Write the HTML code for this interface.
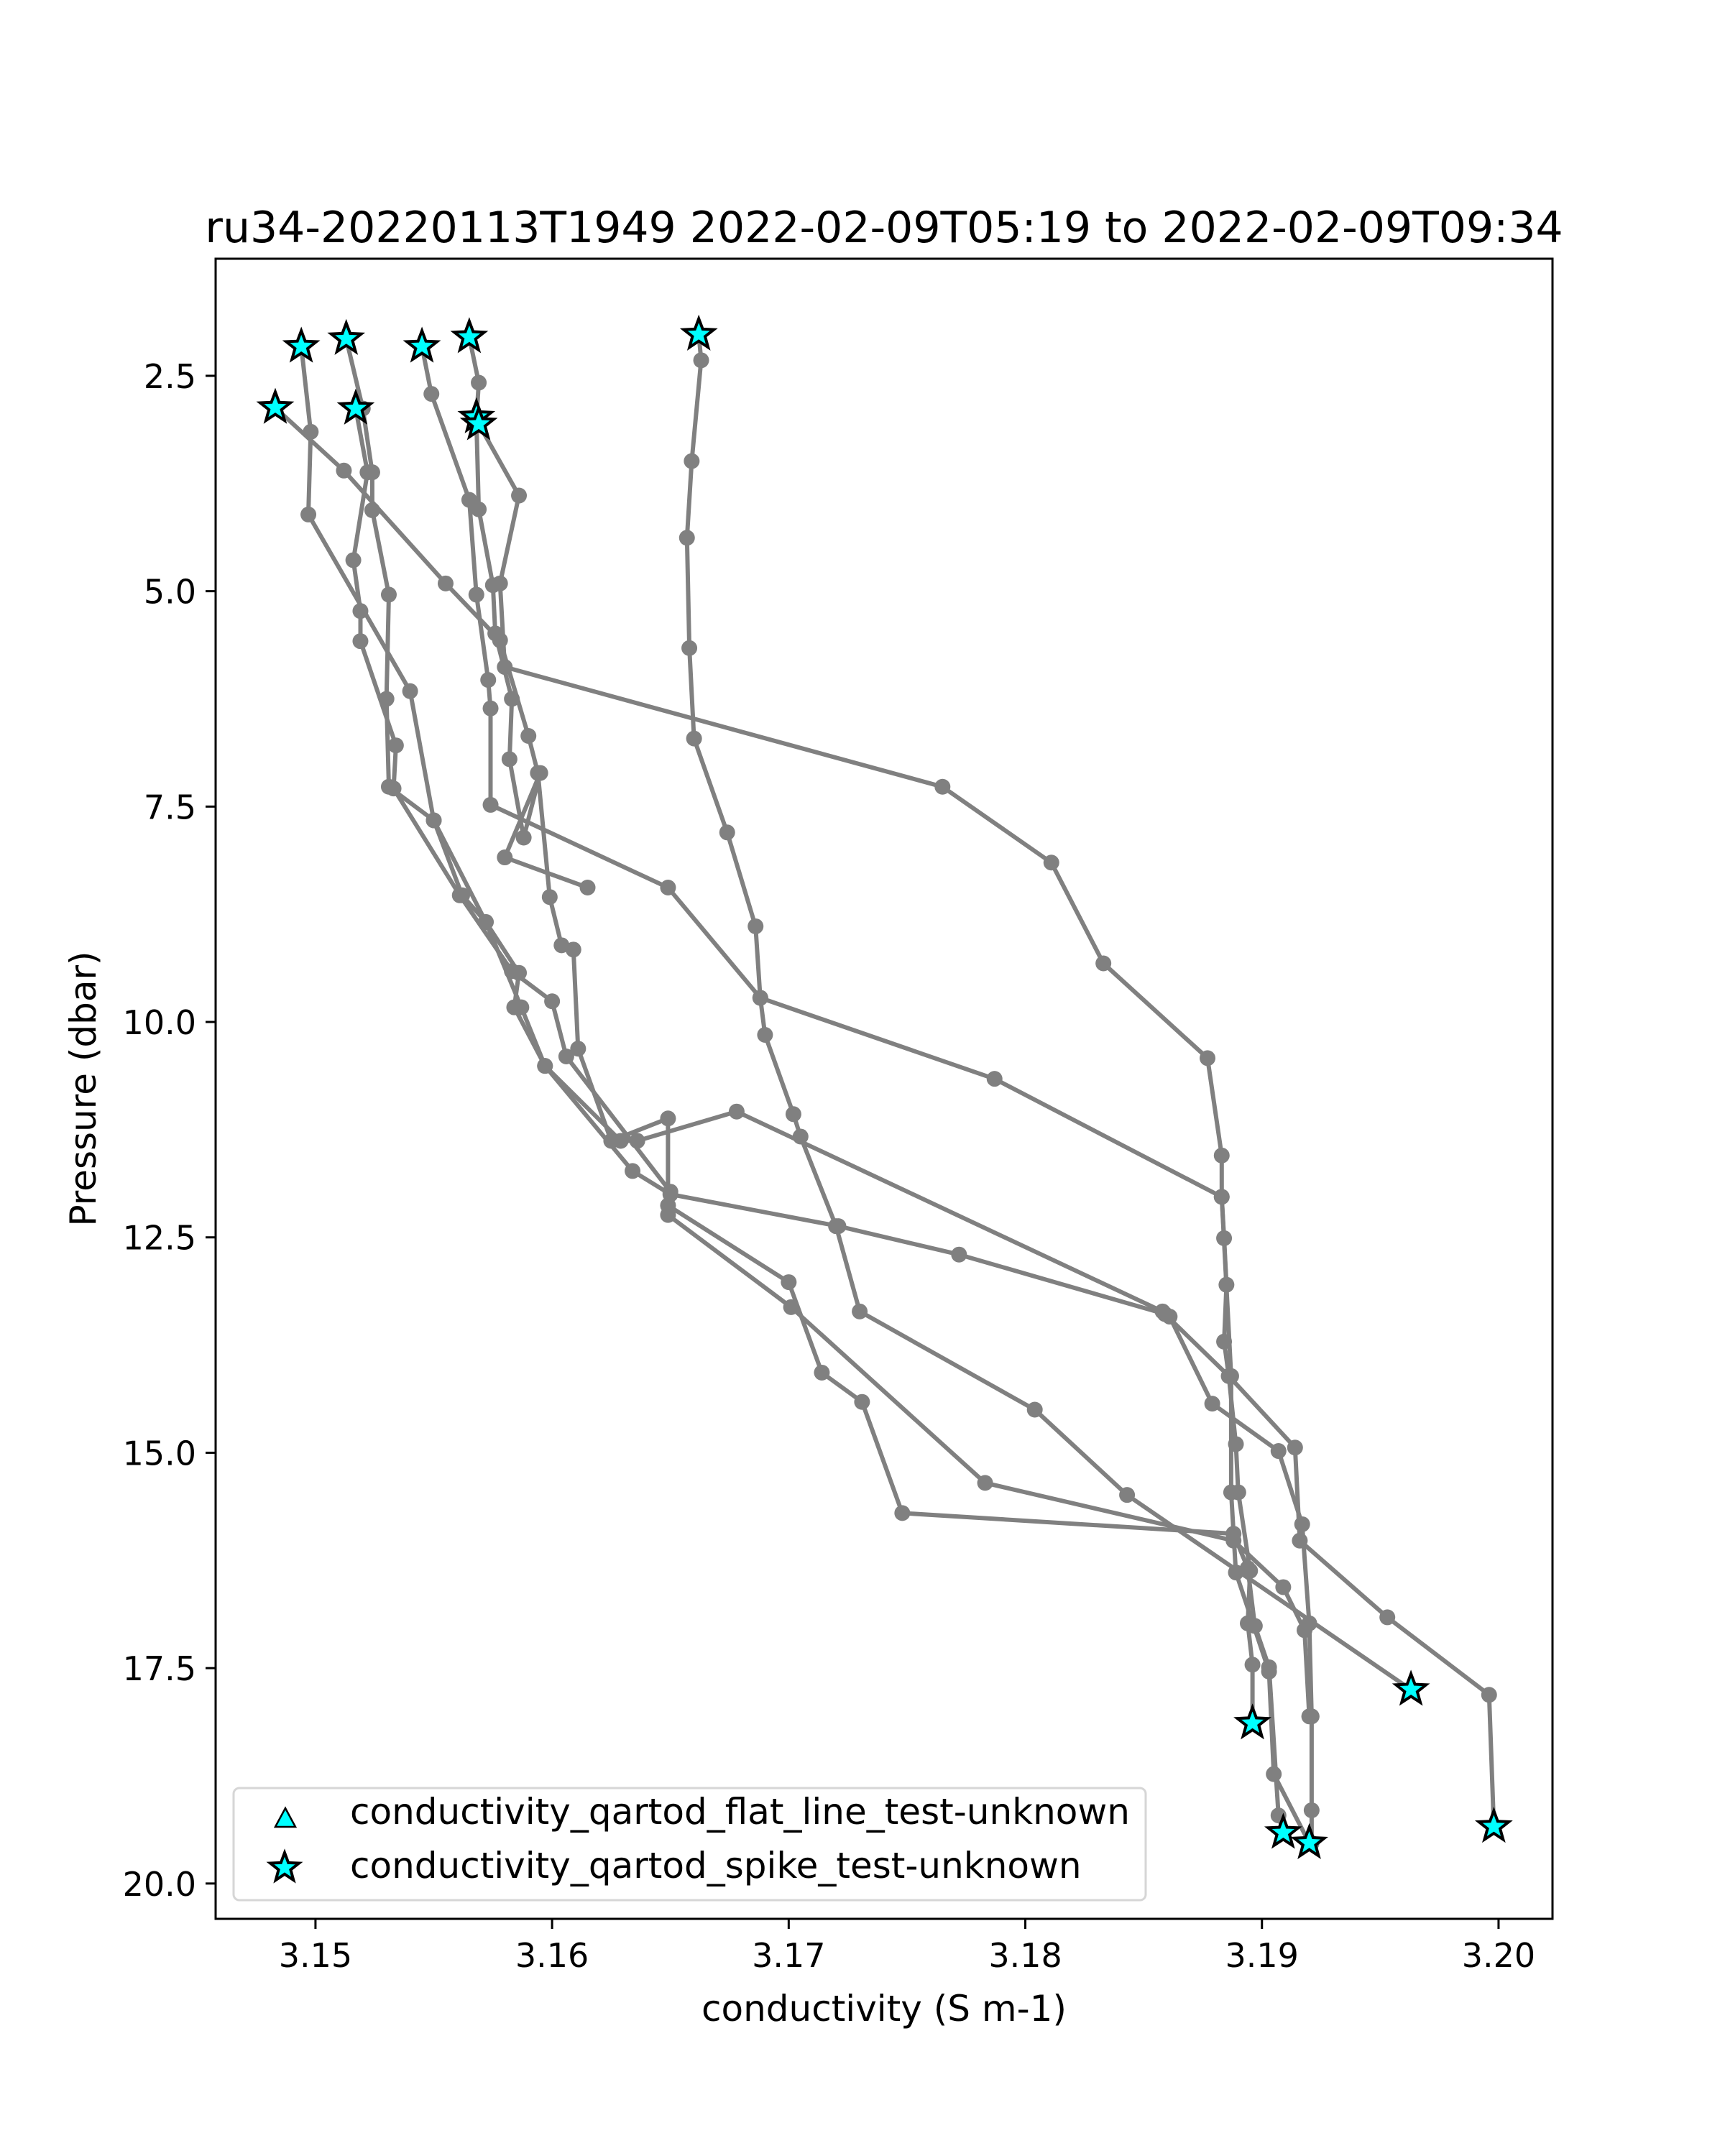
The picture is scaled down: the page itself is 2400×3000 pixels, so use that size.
<!DOCTYPE html>
<html><head><meta charset="utf-8">
<style>
html,body{margin:0;padding:0;background:#fff;}
svg{display:block;font-family:"DejaVu Sans","Liberation Sans",sans-serif;}
</style></head>
<body>
<svg id="chart" width="2400" height="3000" viewBox="0 0 2400 3000" xmlns="http://www.w3.org/2000/svg">
<rect x="0" y="0" width="2400" height="3000" fill="#fff"/>
<text x="1230" y="337" font-size="60" text-anchor="middle">ru34-20220113T1949 2022-02-09T05:19 to 2022-02-09T09:34</text>
<g id="plot"></g>
<rect x="300" y="360" width="1860" height="2310" fill="none" stroke="#000" stroke-width="3"/>
<text x="1230" y="2812" font-size="50" text-anchor="middle">conductivity (S m-1)</text>
<text x="0" y="0" font-size="50" text-anchor="middle" transform="translate(133,1515) rotate(-90)">Pressure (dbar)</text>
<g id="legend">
<rect x="325" y="2488" width="1269" height="156" rx="8" fill="#fff" fill-opacity="0.8" stroke="#d6d6d6" stroke-width="3"/>
<polygon points="397,2516 411,2542 383,2542" fill="#00ffff" stroke="#000" stroke-width="2.5"/>
<text x="487" y="2538" font-size="50">conductivity_qartod_flat_line_test-unknown</text>
<g id="legstar"></g>
<text x="487" y="2613" font-size="50">conductivity_qartod_spike_test-unknown</text>
</g>
</svg>
<script>
const xTicks=[3.15,3.16,3.17,3.18,3.19,3.20];
const xTickLabels=["3.15","3.16","3.17","3.18","3.19","3.20"];
const yTicks=[2.5,5.0,7.5,10.0,12.5,15.0,17.5,20.0];
const yTickLabels=["2.5","5.0","7.5","10.0","12.5","15.0","17.5","20.0"];
const p1C=[3.1662,3.1663,3.1659,3.1657,3.1658,3.1660,3.1674,3.1686,3.1688,3.1690,3.1702,3.1705,3.1720,3.1730,3.1804,3.1843,3.1963];
const p1P=[2.02,2.32,3.49,4.38,5.66,6.71,7.80,8.89,9.72,10.15,11.07,11.33,12.37,13.36,14.50,15.49,17.75];
const p2C=[3.1565,3.1569,3.1568,3.1586,3.1578,3.1580,3.1765,3.1811,3.1833,3.1877,3.1883,3.1883,3.1884,3.1885,3.1884,3.1886,3.1889,3.1890,3.1895,3.1894,3.1896,3.1896];
const p2P=[2.05,2.58,3.01,3.89,4.91,5.88,7.27,8.15,9.32,10.42,11.55,12.03,12.51,13.05,13.71,14.11,14.90,15.46,16.37,16.98,17.46,18.14];
const p3C=[3.1545,3.1549,3.1565,3.1568,3.1573,3.1574,3.1574,3.1649,3.1688,3.1787,3.1883,3.1887,3.1887,3.1889,3.1903,3.1905,3.1920];
const p3P=[2.16,2.71,3.94,5.04,6.03,6.36,7.48,8.44,9.72,10.66,12.03,14.11,15.46,16.39,17.54,18.73,19.53];
const p4C=[3.1513,3.1520,3.1524,3.1524,3.1531,3.1530,3.1531,3.1550,3.1562,3.1572,3.1587,3.1597,3.1629,3.1636,3.1678,3.1858,3.1861,3.1879,3.1907,3.1917,3.1920,3.1921,3.1921,3.1921];
const p4P=[2.07,2.88,3.62,4.06,5.04,6.25,7.27,7.66,8.53,8.84,9.83,10.51,11.38,11.38,11.04,13.36,13.42,14.43,14.98,15.83,16.98,18.06,19.15,19.53];
const p5C=[3.1494,3.1498,3.1497,3.1540,3.1550,3.1572,3.1586,3.1584,3.1597,3.1634,3.1650,3.1721,3.1772,3.1859,3.1886,3.1914,3.1916,3.1953,3.1996,3.1998];
const p5P=[2.16,3.15,4.11,6.16,7.66,8.84,9.43,9.83,10.51,11.73,12.00,12.37,12.70,13.39,14.11,14.94,16.02,16.91,17.81,19.34];
const p6C=[3.1483,3.1512,3.1555,3.1578,3.1590,3.1594,3.1599,3.1604,3.1609,3.1611,3.1625,3.1649,3.1649,3.1700,3.1714,3.1731,3.1748,3.1888,3.1894,3.1897,3.1903,3.1907,3.1909];
const p6P=[2.87,3.60,4.91,5.57,6.68,7.11,8.55,9.11,9.16,10.31,11.38,11.12,12.13,13.02,14.07,14.41,15.70,15.94,16.34,17.01,17.49,19.21,19.41];
const p7C=[3.1517,3.1522,3.1516,3.1519,3.1519,3.1534,3.1533,3.1561,3.1583,3.1600,3.1606,3.1650,3.1649,3.1701,3.1783,3.1888,3.1909,3.1918,3.1920];
const p7P=[2.88,3.62,4.64,5.23,5.58,6.79,7.29,8.53,9.41,9.76,10.40,11.97,12.24,13.31,15.35,16.02,16.56,17.06,18.06];
const p8C=[3.1568,3.1569,3.1575,3.1576,3.1583,3.1582,3.1588,3.1595,3.1580,3.1615];
const p8P=[3.01,4.05,4.93,5.49,6.25,6.95,7.86,7.11,8.09,8.44];
const spikeC=[3.1494,3.1513,3.1545,3.1565,3.1662,3.1483,3.1517,3.1568,3.1569,3.1896,3.1963,3.1909,3.1920,3.1998];
const spikeP=[2.16,2.07,2.16,2.05,2.02,2.87,2.88,2.98,3.06,18.14,17.75,19.41,19.53,19.34];

const L=300,R=2160,T=360,B=2670;
const xMin=3.14578,xMax=3.20228,yMin=1.141,yMax=20.41;
const sx=v=>L+(v-xMin)/(xMax-xMin)*(R-L);
const sy=v=>T+(v-yMin)/(yMax-yMin)*(B-T);
const NS="http://www.w3.org/2000/svg";
const svg=document.getElementById('chart');
const plot=document.getElementById('plot');
function mk(tag,attrs,parent){const e=document.createElementNS(NS,tag);for(const k in attrs)e.setAttribute(k,attrs[k]);(parent||svg).appendChild(e);return e;}
function starPts(cx,cy,r){let p=[];for(let i=0;i<10;i++){const a=-Math.PI/2+i*Math.PI/5;const rr=i%2?r*0.42:r;p.push((cx+rr*Math.cos(a)).toFixed(1)+','+(cy+rr*Math.sin(a)).toFixed(1));}return p.join(' ');}

xTicks.forEach((v,i)=>{
  const t=mk('line',{x1:sx(v),x2:sx(v),y1:B,y2:B+14,stroke:'#000','stroke-width':3});
  
  
  const l=mk('text',{x:sx(v),y:B+67,'font-size':46,'text-anchor':'middle'});
  
  
  l.textContent=xTickLabels[i];
});
yTicks.forEach((v,i)=>{
  const t=mk('line',{x1:L-14,x2:L,y1:sy(v),y2:sy(v),stroke:'#000','stroke-width':3});
  
  
  const l=mk('text',{x:L-27,y:sy(v)+17,'font-size':46,'text-anchor':'end'});
  
  
  l.textContent=yTickLabels[i];
});

const profiles=[[p1C,p1P],[p2C,p2P],[p3C,p3P],[p4C,p4P],[p5C,p5P],[p6C,p6P],[p7C,p7P],[p8C,p8P]];
profiles.forEach((pr,k)=>{
  const pts=pr[0].map((c,i)=>sx(c).toFixed(1)+','+sy(pr[1][i]).toFixed(1)).join(' ');
  const pl=mk('polyline',{points:pts,fill:'none',stroke:'#808080','stroke-width':6,'stroke-linejoin':'round'},plot);
  
  
  pr[0].forEach((c,i)=>{
    const d=mk('circle',{cx:sx(c),cy:sy(pr[1][i]),r:11,fill:'#808080'},plot);
    
    
  });
});
spikeC.forEach((c,i)=>{
  const s=mk('polygon',{points:starPts(sx(c),sy(spikeP[i]),22),fill:'#00ffff',stroke:'#000','stroke-width':4},plot);
  
  
});
const ls=mk('polygon',{points:starPts(396,2599,21),fill:'#00ffff',stroke:'#000','stroke-width':4},document.getElementById('legstar'));


</script>
</body></html>
